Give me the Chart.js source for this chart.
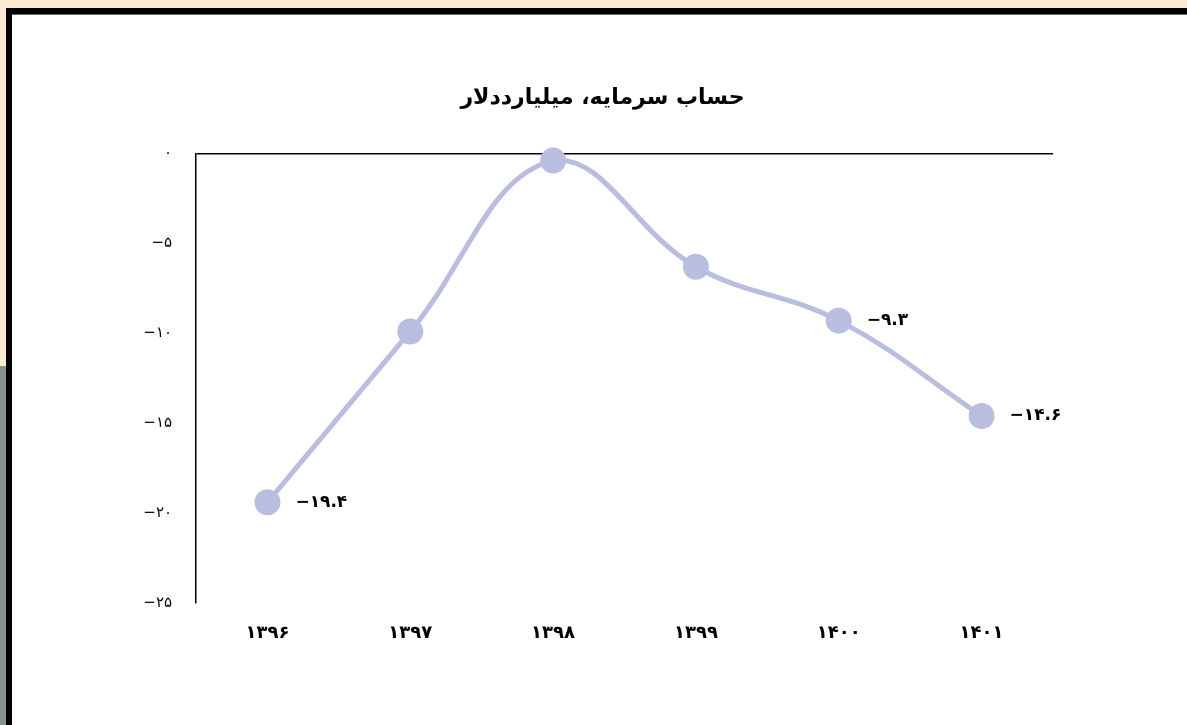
<!DOCTYPE html>
<html>
<head>
<meta charset="utf-8">
<script src="https://cdn.jsdelivr.net/npm/chart.js@4.4.0/dist/chart.umd.min.js"></script>
<style>
    body { margin: 0; width: 1187px; height: 725px; overflow: hidden; position: relative;
           background: #fde9d3; font-family: "DejaVu Sans", sans-serif; }
    #lower { position: absolute; left: 0; top: 366px; width: 6px; height: 359px; background: #829290; }
    #panel { position: absolute; left: 6px; top: 8px; width: 1181px; height: 717px;
             border-left: 6px solid #000; border-top: 6px solid #000; background: #fff;
             box-shadow: inset 0 1px 0 #666; }
    #wrap { position: absolute; left: 0; top: 0; width: 1175px; height: 711px; }
</style>
</head>
<body>
<div id="lower"></div>
<div id="panel">
    <div id="wrap"><canvas id="grafico"></canvas></div>
</div>
<script>
// Dados
const anos = ["1396", "1397", "1398", "1399", "1400", "1401"];
const valores = [-19.4, -9.9, -0.4, -6.3, -9.3, -14.6];
const mostrarRotulo = [true, false, false, false, true, true];
const ticksY = [0, -5, -10, -15, -20, -25];
const titulo = "حساب سرمایه، میلیارددلار";

const corLinha = "#b9bde0";

// Converter para dígitos persas
function fa(s) {
    return String(s).replace(/[0-9]/g, d => "۰۱۲۳۴۵۶۷۸۹"[d]).replace("-", "−");
}

// Título centralizado na tela e rótulos de dados à direita dos pontos
const rotulos = {
    id: "rotulos",
    afterDatasetsDraw(chart) {
        const ctx = chart.ctx;
        const meta = chart.getDatasetMeta(0);
        ctx.save();
        ctx.fillStyle = "#000";
        ctx.textBaseline = "middle";

        ctx.font = "bold 22px 'DejaVu Sans'";
        ctx.textAlign = "center";
        ctx.fillText(titulo, chart.width / 2 + 3, 84);

        ctx.font = "bold 17px 'DejaVu Sans'";
        ctx.textAlign = "left";
        meta.data.forEach((pt, i) => {
            if (!mostrarRotulo[i]) return;
            ctx.fillText(fa(valores[i].toFixed(1)), pt.x + 28, pt.y);
        });
        ctx.restore();
    }
};

new Chart(document.getElementById("grafico"), {
    type: "line",
    data: {
        labels: anos.map(fa),
        datasets: [{
            data: valores,
            borderColor: corLinha,
            backgroundColor: corLinha,
            pointBackgroundColor: corLinha,
            pointBorderWidth: 0,
            pointRadius: 13,
            pointHoverRadius: 13,
            borderWidth: 5,
            tension: 0.4,
            clip: false
        }]
    },
    options: {
        responsive: true,
        maintainAspectRatio: false,
        animation: false,
        layout: { padding: { left: 0, right: 134, top: 0, bottom: 0 } },
        plugins: {
            legend: { display: false },
            tooltip: { enabled: false },
            title: {
                display: true,
                text: titulo,
                color: "transparent",
                font: { family: "DejaVu Sans", size: 22, weight: "bold" },
                padding: { top: 70, bottom: 43 }
            }
        },
        scales: {
            x: {
                offset: true,
                grid: { display: false },
                border: { display: false },
                ticks: { color: "#000", padding: 12, font: { family: "DejaVu Sans", size: 18, weight: "bold" } },
                afterFit: s => { s.height = 122; }
            },
            y: {
                min: -25,
                max: 0,
                afterBuildTicks: s => { s.ticks = ticksY.map(v => ({ value: v })); },
                grid: {
                    drawTicks: false,
                    color: c => c.tick && c.tick.value === 0 ? "#000" : "transparent",
                    lineWidth: 1.5
                },
                border: { display: true, color: "#000", width: 1.5 },
                ticks: {
                    color: "#000",
                    padding: 24,
                    font: { family: "DejaVu Sans", size: 15 },
                    callback: v => fa(v)
                },
                afterFit: s => { s.width = 184; }
            }
        }
    },
    plugins: [rotulos]
});
</script>
</body>
</html>
